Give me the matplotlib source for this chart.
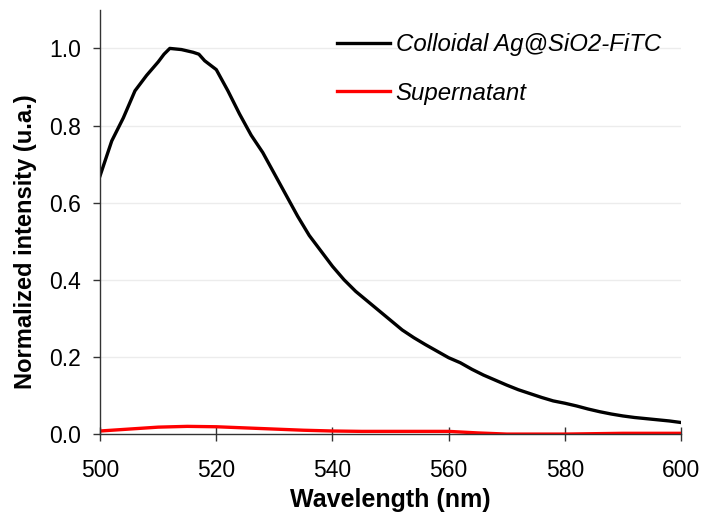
import matplotlib
matplotlib.use('Agg')
import matplotlib.pyplot as plt

plt.rcParams['font.family'] = ['Liberation Sans', 'DejaVu Sans']

# Spectra
wl_colloid = [500, 502, 504, 506, 508, 510, 511, 512, 514, 516, 517, 518, 520,
              522, 524, 526, 528, 530, 532, 534, 536, 538, 540, 542, 544, 546,
              548, 550, 552, 554, 556, 558, 560, 562, 564, 566, 568, 570, 572,
              574, 576, 578, 580, 582, 584, 586, 588, 590, 592, 594, 596, 598, 600]
int_colloid = [0.67, 0.76, 0.82, 0.89, 0.93, 0.965, 0.985, 1.0, 0.997, 0.99, 0.985,
               0.968, 0.945, 0.89, 0.83, 0.775, 0.73, 0.675, 0.62, 0.565, 0.515,
               0.475, 0.435, 0.40, 0.37, 0.345, 0.32, 0.295, 0.27, 0.25, 0.232,
               0.215, 0.198, 0.185, 0.168, 0.153, 0.14, 0.127, 0.115, 0.105, 0.095,
               0.086, 0.08, 0.073, 0.065, 0.058, 0.052, 0.047, 0.043, 0.04, 0.037,
               0.034, 0.03]

wl_super = [500, 505, 510, 515, 520, 525, 530, 535, 540, 545, 550, 555, 560,
            565, 570, 575, 580, 585, 590, 595, 600]
int_super = [0.008, 0.013, 0.018, 0.02, 0.019, 0.016, 0.013, 0.01, 0.008, 0.007,
             0.007, 0.007, 0.007, 0.003, 0.0, 0.0, 0.0, 0.001, 0.002, 0.002, 0.002]

x_ticks = [500, 520, 540, 560, 580, 600]
y_ticks = [0.0, 0.2, 0.4, 0.6, 0.8, 1.0]

fig = plt.figure(figsize=(7.05, 5.18), dpi=100)
ax = fig.add_axes([0.142, 0.162, 0.824, 0.819])

ax.plot(wl_colloid, int_colloid, color='black', lw=2.4, label='Colloidal Ag@SiO2-FiTC')
ax.plot(wl_super, int_super, color='red', lw=2.4, label='Supernatant')

ax.set_xlim(500, 600)
ax.set_ylim(0, 1.1)
ax.set_xticks(x_ticks)
ax.set_yticks(y_ticks)
ax.set_yticklabels([f'{v:.1f}' for v in y_ticks])

for v in y_ticks[1:]:
    ax.axhline(v, color='#ececec', lw=1.0, zorder=0)

for s in ['top', 'right']:
    ax.spines[s].set_visible(False)
for s in ['left', 'bottom']:
    ax.spines[s].set_color('#333333')
    ax.spines[s].set_linewidth(1.0)

ax.tick_params(axis='y', direction='out', length=5, width=1, labelsize=16.5,
               color='#333333', pad=9)
ax.tick_params(axis='x', direction='inout', length=10, width=1, labelsize=16.5,
               color='#333333', pad=13)

ax.set_xlabel('Wavelength (nm)', fontsize=18, fontweight='bold', labelpad=4)
ax.set_ylabel('Normalized intensity (u.a.)', fontsize=17, fontweight='bold')
ax.yaxis.set_label_coords(-0.108, 0.453)

leg = ax.legend(loc='upper left', bbox_to_anchor=(0.392, 0.967), frameon=False,
                borderaxespad=0, prop={'style': 'italic', 'size': 17.3},
                handlelength=2.2, handletextpad=0.22, labelspacing=1.05)

fig.savefig('out.png', dpi=100)
